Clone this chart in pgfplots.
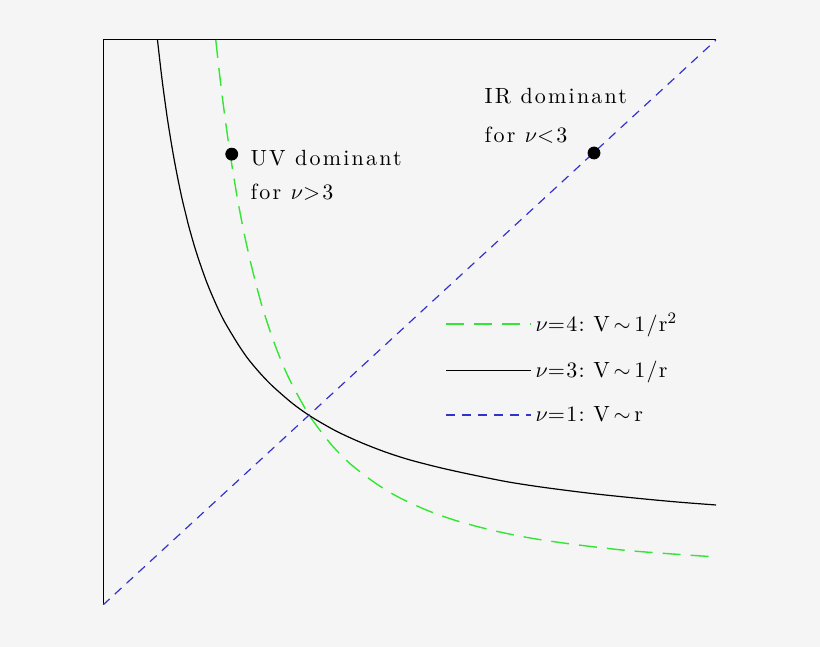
\documentclass[border=0pt]{standalone}
\usepackage{fontspec}
\setmainfont{lmroman10-regular}[Extension=.otf, ItalicFont=lmroman10-italic, BoldFont=lmroman10-bold]
\usepackage{pgfplots}
\pgfplotsset{compat=1.18}
\definecolor{bgcol}{HTML}{F5F5F5}
\definecolor{lgreen}{HTML}{33E633}
\definecolor{dblue}{HTML}{3333CC}
\begin{document}
\begin{tikzpicture}
\fill[bgcol] (-51.5pt,-21pt) rectangle (358.5pt,302.5pt);
\begin{axis}[
  at={(0,0)}, anchor=south west,
  scale only axis, width=306.5pt, height=282.5pt,
  xmin=0, xmax=1, ymin=0, ymax=1,
  axis x line*=top, axis y line*=left,
  xtick=\empty, ytick=\empty,
  axis line style={black, line width=0.5pt},
  font=\fontsize{11}{14}\selectfont\addfontfeatures{LetterSpace=10},
  legend cell align=left,
  legend image code/.code={\draw[#1] (0pt,0pt) -- (42.5pt,0pt);},
  legend style={at={(0.548,0.5311)}, anchor=north west, draw=none, fill=none,
    row sep=9pt, font=\fontsize{11}{14}\selectfont\addfontfeatures{LetterSpace=6}},
]
% nu = 4
\addplot[lgreen, line width=0.7pt, smooth, dash pattern=on 9pt off 5pt] coordinates {
  (0.184,1.000) (0.187,0.970) (0.19,0.941) (0.195,0.896) (0.20,0.855)
  (0.205,0.816) (0.21,0.780) (0.215,0.747) (0.22,0.715)
  (0.23,0.659) (0.24,0.610) (0.25,0.566) (0.26,0.527) (0.27,0.493)
  (0.28,0.462) (0.29,0.434) (0.30,0.409) (0.31,0.387) (0.325,0.357)
  (0.34,0.330) (0.37,0.287) (0.40,0.253) (0.44,0.219)
  (0.48,0.192) (0.53,0.167) (0.58,0.148) (0.64,0.131) (0.70,0.118)
  (0.77,0.107) (0.85,0.097) (0.92,0.091) (1.00,0.085)
};
\addlegendentry{$\nu$=4:\ V\,$\sim$\,1/r$^2$}
% nu = 3
\addplot[black, line width=0.6pt, smooth] coordinates {
  (0.0889,1.000) (0.092,0.970) (0.095,0.942) (0.0975,0.920) (0.10,0.900)
  (0.105,0.861) (0.11,0.827) (0.115,0.795) (0.12,0.766) (0.125,0.739)
  (0.13,0.714) (0.135,0.692) (0.14,0.670) (0.15,0.632) (0.16,0.599)
  (0.17,0.569) (0.18,0.543) (0.19,0.519) (0.20,0.498) (0.22,0.462)
  (0.235,0.438) (0.25,0.418) (0.265,0.400) (0.28,0.384) (0.31,0.356)
  (0.34,0.333) (0.38,0.308) (0.42,0.288) (0.46,0.271) (0.50,0.257)
  (0.55,0.243) (0.60,0.231) (0.66,0.218) (0.72,0.208) (0.80,0.197)
  (0.88,0.188) (0.94,0.182) (1.00,0.177)
};
\addlegendentry{$\nu$=3:\ V\,$\sim$\,1/r}
% nu = 1
\addplot[dblue, line width=0.6pt, dash pattern=on 4.5pt off 3.5pt] coordinates {
  (0,0) (1,1)
};
\addlegendentry{$\nu$=1:\ V\,$\sim$\,r}
\addplot[only marks, mark=*, mark size=3pt, black, forget plot] coordinates {
  (0.210,0.798) (0.801,0.800)
};
\node[anchor=base west, inner sep=0pt] at (axis cs:0.240,0.778) {UV dominant};
\node[anchor=base west, inner sep=0pt] at (axis cs:0.240,0.717) {for $\nu$>3};
\node[anchor=base west, inner sep=0pt] at (axis cs:0.622,0.888) {IR dominant};
\node[anchor=base west, inner sep=0pt] at (axis cs:0.622,0.818) {for $\nu$<3};
\end{axis}
\end{tikzpicture}
\end{document}
